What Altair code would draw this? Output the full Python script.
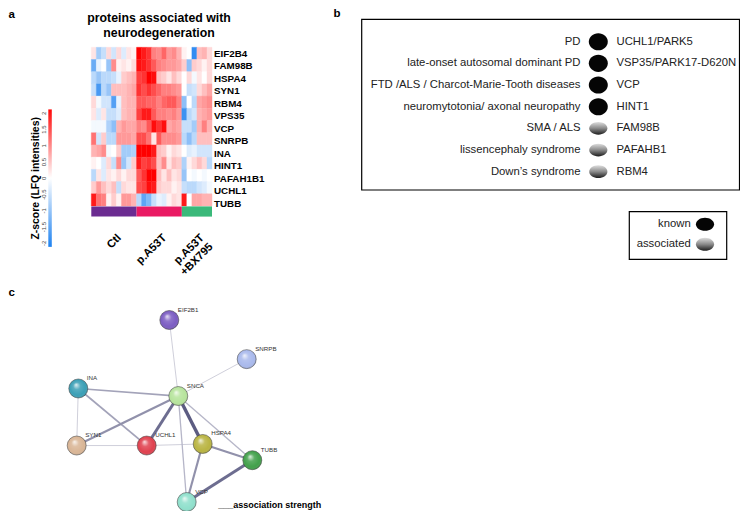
import altair as alt
import pandas as pd

OFF = 8


def P(v):
    return v - OFF


FONT = "Liberation Sans"

# ---------------- panel a : heatmap data ----------------
genes = ["EIF2B4", "FAM98B", "HSPA4", "SYN1", "RBM4", "VPS35", "VCP",
         "SNRPB", "INA", "HINT1", "PAFAH1B1", "UCHL1", "TUBB"]

ctl_z = [
    [0.2, -0.8, -0.5, 0.3, -0.4, 0.3, -0.3, 0.2, 0.1],
    [-1.3, -0.2, 0.0, -0.9, 0.9, 0.1, 0.2, 0.1, 0.3],
    [-0.6, -0.9, -0.6, -0.6, -0.5, -0.2, 0.4, 0.5, 0.6],
    [-0.5, -1.6, -0.6, -0.9, 0.5, 0.5, 0.5, 0.6, 0.7],
    [0.3, -0.1, -0.4, -0.4, -1.5, -0.2, 0.5, 0.6, 0.6],
    [0.2, -0.3, 0.2, -0.5, -0.5, -0.3, 0.5, 0.6, 0.6],
    [-0.1, -0.1, -0.1, -0.7, -1.0, 0.6, 0.8, 0.7, 0.7],
    [1.1, -0.4, 0.4, -0.6, -0.6, 0.8, 0.8, 0.8, 0.7],
    [0.6, 0.7, 0.9, -0.1, 0.0, 0.4, -0.8, -0.8, -0.7],
    [0.1, 0.0, -0.3, 0.3, -0.5, 0.9, -0.9, -0.4, 0.4],
    [-0.6, 0.2, -0.3, 0.2, 0.1, 0.3, 0.1, 0.3, 0.3],
    [0.4, 0.8, 0.5, 0.3, 0.5, -0.5, 0.3, 0.2, 0.2],
    [1.8, 1.1, 1.0, 0.1, 0.4, 0.1, 0.8, 0.8, 0.6],
]
a53t_z = [
    [2.3, 1.8, 1.6, 1.0, 0.9, 1.2, 0.8, 0.9, 0.6],
    [1.9, 1.8, 1.6, 1.3, 1.0, 0.9, 0.8, 0.8, 0.7],
    [1.5, 1.6, 2.2, 1.9, 0.5, 0.4, 0.2, 0.5, 0.3],
    [1.6, 1.4, 1.6, 1.4, 1.2, 1.0, 1.0, 0.9, 0.8],
    [1.3, 1.3, 1.2, 1.2, 1.0, 1.2, 1.3, 1.3, 1.0],
    [1.5, 1.8, 1.8, 1.3, 1.0, 1.0, 0.9, 1.0, 0.8],
    [1.0, 0.9, 1.3, 1.9, 1.6, 1.9, 0.7, 0.8, 0.7],
    [1.4, 1.4, 1.1, 0.2, 1.3, 0.9, 0.9, 0.9, 0.8],
    [2.0, 2.0, 2.0, 1.8, 0.5, 0.4, 0.1, 0.3, 0.2],
    [1.8, 1.5, 1.6, 1.4, 0.5, 0.9, 0.2, 0.5, 0.4],
    [1.3, 1.6, 2.1, 2.0, 0.5, 0.2, 0.5, 0.2, 0.3],
    [1.4, 1.5, 1.9, 1.8, 0.4, 0.3, 0.3, 0.1, 0.2],
    [-0.6, -1.4, -1.1, -0.5, -0.2, -0.3, 0.1, 0.3, 0.2],
]
bx_z = [
    [0.1, 0.0, -1.8, 0.5, 0.6, 0.3],
    [0.4, -1.0, 0.4, 0.3, 0.1, 0.3],
    [0.0, 0.3, -0.1, 0.2, 0.0, 0.3],
    [0.0, -0.5, -0.4, 0.3, 0.5, 0.7],
    [-1.0, 0.0, -0.6, 0.7, 0.8, 0.9],
    [-1.7, -0.6, -0.4, 0.6, 0.7, 0.8],
    [-0.5, -0.5, -0.8, 0.6, 1.0, 0.6],
    [-0.6, -1.0, -0.6, 0.5, 0.5, 0.5],
    [0.0, -0.3, -0.2, -0.4, -0.4, -0.4],
    [-0.7, 0.1, 0.3, 0.5, 0.3, -0.6],
    [-0.9, 0.0, -0.1, 0.0, -0.1, 0.0],
    [-0.5, -0.6, -0.6, -0.4, -0.3, -0.1],
    [1.8, 0.0, 0.7, 0.7, 0.6, 0.6],
]

group_names = ["Ctl", "p.A53T", "p.A53T +BX795"]
group_line1 = ["Ctl", "p.A53T", "p.A53T"]
group_line2 = ["", "", "+BX795"]
group_sizes = [9, 9, 6]
group_colors = ["#6b2c91", "#ea1a63", "#3bb97a"]

title_lines = ["proteins associated with", "neurodegeneration"]
z_title = "Z-score (LFQ intensities)"
z_ticks = [2, 1.5, 1, 0.5, 0, -0.5, -1, -1.5, -2]
z_tick_labels = ["2", "1.5", "1", "0.5", "0", "-0.5", "-1", "-1.5", "-2"]

# ---------------- panel b ----------------
diseases = ["PD", "late-onset autosomal dominant PD",
            "FTD /ALS / Charcot-Marie-Tooth diseases",
            "neuromytotonia/ axonal neuropathy", "SMA / ALS",
            "lissencephaly syndrome", "Down\u2019s syndrome"]
disease_genes = ["UCHL1/PARK5", "VSP35/PARK17-D620N", "VCP", "HINT1",
                 "FAM98B", "PAFAHB1", "RBM4"]
disease_kind = ["known", "known", "known", "known",
                "associated", "associated", "associated"]
legend_labels = ["known", "associated"]

# ---------------- panel c : network ----------------
node_names = ["EIF2B1", "SNRPB", "INA", "SNCA", "SYN1", "UCHL1", "HSPA4", "TUBB", "VCP"]
node_x = [169.3, 246.7, 78.3, 178.3, 76.7, 146.7, 202.7, 252.3, 186.7]
node_y = [20.0, 60.0, 90.0, 97.7, 148.3, 148.3, 146.7, 163.3, 206.0]
node_colors = ["#7b5cc2", "#a9b9ec", "#3a9fb6", "#b6e49c", "#d9b595",
               "#e0404e", "#b9b441", "#41a04a", "#8fe0cc"]
edge_src = ["EIF2B1", "SNRPB", "INA", "INA", "INA", "SYN1", "SYN1", "UCHL1",
            "UCHL1", "HSPA4", "SNCA", "SNCA", "HSPA4", "HSPA4", "TUBB"]
edge_dst = ["SNCA", "SNCA", "SNCA", "SYN1", "UCHL1", "SNCA", "UCHL1", "HSPA4",
            "SNCA", "SNCA", "TUBB", "VCP", "TUBB", "VCP", "VCP"]
edge_strength = [1, 1, 2, 1, 2, 2.5, 1, 1, 3.5, 4, 1.5, 1.5, 2.5, 2.5, 3.5]
strength_label = "___association strength"

# ================= build tables =================
heat_rows = []
for r, g in enumerate(genes):
    vals = ctl_z[r] + a53t_z[r] + bx_z[r]
    for c, v in enumerate(vals):
        heat_rows.append({"gene": g, "row": r, "col": c, "z": v})
heat_df = pd.DataFrame(heat_rows)

starts, s = [], 0
for n in group_sizes:
    starts.append(s)
    s += n
ncol = s
grp_df = pd.DataFrame({
    "name": group_names, "start": starts,
    "end": [a + b for a, b in zip(starts, group_sizes)],
    "center": [a + b / 2 for a, b in zip(starts, group_sizes)],
    "l1": group_line1, "l2": group_line2,
})
gene_df = pd.DataFrame({"gene": genes, "row": list(range(len(genes)))})
title_df = pd.DataFrame({"t": title_lines, "i": list(range(len(title_lines)))})
tick_df = pd.DataFrame({"v": z_ticks, "lab": z_tick_labels})
dis_df = pd.DataFrame({"disease": diseases, "gene": disease_genes,
                       "kind": disease_kind, "i": list(range(len(diseases)))})
leg_df = pd.DataFrame({"lab": legend_labels, "i": [0, 1]})
node_df = pd.DataFrame({"name": node_names, "x": node_x, "y": node_y})
pos = {n: (x, y) for n, x, y in zip(node_names, node_x, node_y)}
edge_df = pd.DataFrame({
    "x": [pos[a][0] for a in edge_src], "y": [pos[a][1] for a in edge_src],
    "x2": [pos[b][0] for b in edge_dst], "y2": [pos[b][1] for b in edge_dst],
    "w": edge_strength,
})

one = alt.Data(values=[{}])


def S(domain, rng):
    return alt.Scale(domain=domain, range=rng, nice=False, zero=False)


def text_at(text, x, y, size, bold=False, align="left", baseline="alphabetic",
            color="black"):
    return alt.Chart(one).mark_text(
        text=text, align=align, baseline=baseline, fontSize=size,
        fontWeight="bold" if bold else "normal", font=FONT, color=color
    ).encode(x=alt.value(P(x)), y=alt.value(P(y)))


def box(x1, y1, x2, y2, sw=1.2):
    return alt.Chart(one).mark_rect(fillOpacity=0, stroke="black", strokeWidth=sw).encode(
        x=alt.value(P(x1)), x2=alt.value(P(x2)), y=alt.value(P(y1)), y2=alt.value(P(y2)))


# ================= panel a =================
hx = S([0, ncol], [P(91.3), P(212)])
hy = S([0, len(genes)], [P(47.3), P(206)])
zcol = alt.Scale(domain=[-2, 0, 2], range=["#1a7ff0", "#ffffff", "#ff0000"],
                 clamp=True, interpolate="rgb")

heat = alt.Chart(heat_df).mark_rect(strokeWidth=0.4).transform_calculate(
    col2="datum.col + 1", row2="datum.row + 1"
).encode(
    x=alt.X("col:Q", scale=hx, axis=None), x2="col2:Q",
    y=alt.Y("row:Q", scale=hy, axis=None), y2="row2:Q",
    color=alt.Color("z:Q", scale=zcol, legend=None),
    stroke=alt.Stroke("z:Q", scale=zcol, legend=None),
)

gbar = alt.Chart(grp_df).mark_rect().encode(
    x=alt.X("start:Q", scale=hx, axis=None), x2="end:Q",
    y=alt.value(P(206.4)), y2=alt.value(P(216.6)),
    color=alt.Color("name:N", scale=alt.Scale(domain=group_names, range=group_colors), legend=None),
)

glab1 = alt.Chart(grp_df).mark_text(
    angle=315, align="right", baseline="middle", dx=8.0, fontSize=11.2,
    fontWeight="bold", font=FONT, color="black"
).encode(x=alt.X("center:Q", scale=hx, axis=None), y=alt.value(P(242)), text="l1:N")

glab2 = alt.Chart(grp_df).transform_filter("datum.l2 != ''").mark_text(
    angle=315, align="right", baseline="middle", dx=8.0, dy=12.5, fontSize=11.2,
    fontWeight="bold", font=FONT, color="black"
).encode(x=alt.X("center:Q", scale=hx, axis=None), y=alt.value(P(242)), text="l2:N")

rowlab = alt.Chart(gene_df).mark_text(
    align="left", baseline="middle", fontSize=9.8, fontWeight="bold", font=FONT, color="black"
).encode(x=alt.value(P(214)),
         y=alt.Y("row:Q", scale=S([0, len(genes) - 1], [P(53.8), P(203.5)]), axis=None),
         text="gene:N")

title = alt.Chart(title_df).mark_text(
    align="center", baseline="middle", fontSize=12.3, fontWeight="bold", font=FONT, color="black"
).encode(x=alt.value(P(159)), y=alt.Y("i:Q", scale=S([0, 1], [P(18.3), P(33.3)]), axis=None),
         text="t:N")

zs = S([-2, 2], [P(243.3), P(113.3)])
zgrad = alt.LinearGradient(
    gradient="linear", x1=0, y1=0, x2=0, y2=1,
    stops=[alt.GradientStop(offset=0, color="#ff0808"),
           alt.GradientStop(offset=0.5, color="#ffffff"),
           alt.GradientStop(offset=1, color="#1e82f0")])
cbar = alt.Chart(alt.Data(values=[{"lo": -2.11, "hi": 2.12}])).mark_rect(color=zgrad).encode(
    x=alt.value(P(48.3)), x2=alt.value(P(51.8)),
    y=alt.Y("lo:Q", scale=zs, axis=None), y2="hi:Q")
cticks = alt.Chart(tick_df).mark_text(
    angle=270, align="center", baseline="middle", fontSize=6, font=FONT, color="#444444"
).encode(x=alt.value(P(43.5)), y=alt.Y("v:Q", scale=zs, axis=None), text="lab:N")
ctitle = alt.Chart(alt.Data(values=[{"v": 0}])).mark_text(
    text=z_title, angle=270, align="center", baseline="middle", fontSize=10.4,
    fontWeight="bold", font=FONT, color="black"
).encode(x=alt.value(P(35.5)), y=alt.Y("v:Q", scale=zs, axis=None))

# ================= panel b =================
by = S([0, len(diseases) - 1], [P(41.7), P(171.7)])
known_shape = "M-1,0A1,0.9,0,1,1,1,0A1,0.9,0,1,1,-1,0Z"
assoc_shape = "M-1,0A1,0.7,0,1,1,1,0A1,0.7,0,1,1,-1,0Z"
leg_shape = "M-1,0A1,0.72,0,1,1,1,0A1,0.72,0,1,1,-1,0Z"
agrad = alt.LinearGradient(
    gradient="linear", x1=0, y1=0, x2=0, y2=1,
    stops=[alt.GradientStop(offset=0, color="#dedede"),
           alt.GradientStop(offset=0.5, color="#8a8a8a"),
           alt.GradientStop(offset=1, color="#1c1c1c")])

dis_text = alt.Chart(dis_df).mark_text(
    align="right", baseline="middle", fontSize=11.3, font=FONT, color="#222222"
).encode(x=alt.value(P(580.5)), y=alt.Y("i:Q", scale=by, axis=None), text="disease:N")
gene_text = alt.Chart(dis_df).mark_text(
    align="left", baseline="middle", fontSize=11.3, font=FONT, color="#222222"
).encode(x=alt.value(P(616.5)), y=alt.Y("i:Q", scale=by, axis=None), text="gene:N")
dots_known = alt.Chart(dis_df).transform_filter("datum.kind == 'known'").mark_point(
    shape=known_shape, size=361, filled=True, color="#050505", opacity=1, strokeWidth=0
).encode(x=alt.value(P(598.3)), y=alt.Y("i:Q", scale=by, axis=None))
dots_assoc = alt.Chart(dis_df).transform_filter("datum.kind == 'associated'").mark_point(
    shape=assoc_shape, size=330, filled=True, fill=agrad, opacity=1, strokeWidth=0
).encode(x=alt.value(P(598.3)), y=alt.Y("i:Q", scale=by, axis=None))

ly = S([0, 1], [P(224.3), P(244.3)])
leg_text = alt.Chart(leg_df).mark_text(
    align="right", baseline="middle", fontSize=11.3, font=FONT, color="#222222"
).encode(x=alt.value(P(690.7)), y=alt.Y("i:Q", scale=ly, axis=None), text="lab:N")
leg_known = alt.Chart(leg_df).transform_filter("datum.i == 0").mark_point(
    shape=leg_shape, size=330, filled=True, color="#050505", opacity=1, strokeWidth=0
).encode(x=alt.value(P(705)), y=alt.Y("i:Q", scale=ly, axis=None))
leg_assoc = alt.Chart(leg_df).transform_filter("datum.i == 1").mark_point(
    shape=leg_shape, size=330, filled=True, fill=agrad, opacity=1, strokeWidth=0
).encode(x=alt.value(P(705)), y=alt.Y("i:Q", scale=ly, axis=None))

# ================= panel c =================
nx = S([0, 350], [P(0), P(350)])
ny = S([20, 206], [P(320), P(502)])
edges = alt.Chart(edge_df).mark_rule().encode(
    x=alt.X("x:Q", scale=nx, axis=None), y=alt.Y("y:Q", scale=ny, axis=None),
    x2="x2:Q", y2="y2:Q",
    strokeWidth=alt.StrokeWidth("w:Q", scale=alt.Scale(domain=[1, 4], range=[0.9, 3.4]), legend=None),
    color=alt.Color("w:Q", scale=alt.Scale(domain=[1, 4], range=["#c9c9d6", "#5c5c82"]), legend=None),
)
nodes = alt.Chart(node_df).mark_circle(
    size=361, opacity=1, stroke="#3c3c3c", strokeWidth=0.7, strokeOpacity=0.75
).encode(
    x=alt.X("x:Q", scale=nx, axis=None), y=alt.Y("y:Q", scale=ny, axis=None),
    color=alt.Color("name:N", scale=alt.Scale(domain=node_names, range=node_colors), legend=None),
)
gloss = alt.RadialGradient(
    gradient="radial", x1=0.38, y1=0.3, r1=0, x2=0.5, y2=0.5, r2=0.55,
    stops=[alt.GradientStop(offset=0, color="rgba(255,255,255,0.85)"),
           alt.GradientStop(offset=0.35, color="rgba(255,255,255,0.15)"),
           alt.GradientStop(offset=0.75, color="rgba(255,255,255,0)"),
           alt.GradientStop(offset=1, color="rgba(0,0,0,0.3)")])
shine = alt.Chart(node_df).mark_circle(size=361, opacity=1, fill=gloss, strokeWidth=0).encode(
    x=alt.X("x:Q", scale=nx, axis=None), y=alt.Y("y:Q", scale=ny, axis=None))
nlab = alt.Chart(node_df).mark_text(
    align="left", baseline="middle", dx=8.5, dy=-10.5, fontSize=6.2, font=FONT, color="#333333"
).encode(x=alt.X("x:Q", scale=nx, axis=None), y=alt.Y("y:Q", scale=ny, axis=None), text="name:N")

# ================= assemble =================
layers = [
    title, heat, gbar, glab1, glab2, rowlab, cbar, cticks, ctitle,
    box(361.7, 19.3, 739.5, 190.0), dis_text, gene_text, dots_known, dots_assoc,
    box(629.3, 211.7, 726.7, 259.3), leg_text, leg_known, leg_assoc,
    edges, nodes, shine, nlab,
    text_at(strength_label, 218.3, 508.0, 9, bold=True),
    text_at("a", 8.5, 17.5, 11.5, bold=True),
    text_at("b", 333.5, 17.0, 11.5, bold=True),
    text_at("c", 8.5, 296.0, 11.5, bold=True),
]

chart = alt.layer(*layers).resolve_scale(
    x="independent", y="independent", color="independent",
    stroke="independent", strokeWidth="independent",
).properties(
    width=732, height=503, padding=0,
    autosize=alt.AutoSizeParams(type="none"),
    background="white",
).configure_view(stroke="transparent")

chart.save("out.html", embed_options={"renderer": "svg", "actions": False})
